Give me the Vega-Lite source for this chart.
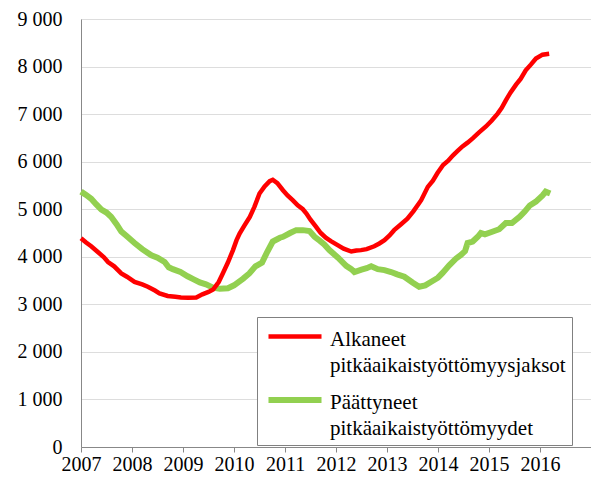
{
  "$schema": "https://vega.github.io/schema/vega-lite/v6.json",
  "width": 510,
  "height": 428,
  "autosize": {"type": "none"},
  "padding": {"left": 81, "top": 19, "right": 0, "bottom": 38},
  "background": "white",
  "data": {
    "values": [
      {"series":"Päättyneet pitkäaikaistyöttömyydet","t":2007.0,"v":5370},{"series":"Päättyneet pitkäaikaistyöttömyydet","t":2007.1,"v":5300},{"series":"Päättyneet pitkäaikaistyöttömyydet","t":2007.2,"v":5220},{"series":"Päättyneet pitkäaikaistyöttömyydet","t":2007.3,"v":5100},{"series":"Päättyneet pitkäaikaistyöttömyydet","t":2007.4,"v":4990},{"series":"Päättyneet pitkäaikaistyöttömyydet","t":2007.5,"v":4930},{"series":"Päättyneet pitkäaikaistyöttömyydet","t":2007.59,"v":4840},{"series":"Päättyneet pitkäaikaistyöttömyydet","t":2007.7,"v":4680},{"series":"Päättyneet pitkäaikaistyöttömyydet","t":2007.79,"v":4530},{"series":"Päättyneet pitkäaikaistyöttömyydet","t":2007.9,"v":4430},{"series":"Päättyneet pitkäaikaistyöttömyydet","t":2008.05,"v":4290},{"series":"Päättyneet pitkäaikaistyöttömyydet","t":2008.2,"v":4160},{"series":"Päättyneet pitkäaikaistyöttömyydet","t":2008.38,"v":4030},{"series":"Päättyneet pitkäaikaistyöttömyydet","t":2008.5,"v":3980},{"series":"Päättyneet pitkäaikaistyöttömyydet","t":2008.64,"v":3890},{"series":"Päättyneet pitkäaikaistyöttömyydet","t":2008.72,"v":3780},{"series":"Päättyneet pitkäaikaistyöttömyydet","t":2008.8,"v":3740},{"series":"Päättyneet pitkäaikaistyöttömyydet","t":2008.95,"v":3680},{"series":"Päättyneet pitkäaikaistyöttömyydet","t":2009.09,"v":3590},{"series":"Päättyneet pitkäaikaistyöttömyydet","t":2009.2,"v":3530},{"series":"Päättyneet pitkäaikaistyöttömyydet","t":2009.33,"v":3460},{"series":"Päättyneet pitkäaikaistyöttömyydet","t":2009.45,"v":3420},{"series":"Päättyneet pitkäaikaistyöttömyydet","t":2009.59,"v":3350},{"series":"Päättyneet pitkäaikaistyöttömyydet","t":2009.72,"v":3330},{"series":"Päättyneet pitkäaikaistyöttömyydet","t":2009.88,"v":3340},{"series":"Päättyneet pitkäaikaistyöttömyydet","t":2010.0,"v":3400},{"series":"Päättyneet pitkäaikaistyöttömyydet","t":2010.18,"v":3540},{"series":"Päättyneet pitkäaikaistyöttömyydet","t":2010.3,"v":3650},{"series":"Päättyneet pitkäaikaistyöttömyydet","t":2010.42,"v":3800},{"series":"Päättyneet pitkäaikaistyöttömyydet","t":2010.55,"v":3880},{"series":"Päättyneet pitkäaikaistyöttömyydet","t":2010.65,"v":4100},{"series":"Päättyneet pitkäaikaistyöttömyydet","t":2010.76,"v":4320},{"series":"Päättyneet pitkäaikaistyöttömyydet","t":2010.9,"v":4400},{"series":"Päättyneet pitkäaikaistyöttömyydet","t":2010.96,"v":4420},{"series":"Päättyneet pitkäaikaistyöttömyydet","t":2011.1,"v":4500},{"series":"Päättyneet pitkäaikaistyöttömyydet","t":2011.22,"v":4560},{"series":"Päättyneet pitkäaikaistyöttömyydet","t":2011.35,"v":4560},{"series":"Päättyneet pitkäaikaistyöttömyydet","t":2011.48,"v":4540},{"series":"Päättyneet pitkäaikaistyöttömyydet","t":2011.58,"v":4420},{"series":"Päättyneet pitkäaikaistyöttömyydet","t":2011.68,"v":4340},{"series":"Päättyneet pitkäaikaistyöttömyydet","t":2011.77,"v":4260},{"series":"Päättyneet pitkäaikaistyöttömyydet","t":2011.87,"v":4140},{"series":"Päättyneet pitkäaikaistyöttömyydet","t":2012.04,"v":3980},{"series":"Päättyneet pitkäaikaistyöttömyydet","t":2012.2,"v":3810},{"series":"Päättyneet pitkäaikaistyöttömyydet","t":2012.3,"v":3740},{"series":"Päättyneet pitkäaikaistyöttömyydet","t":2012.36,"v":3680},{"series":"Päättyneet pitkäaikaistyöttömyydet","t":2012.5,"v":3730},{"series":"Päättyneet pitkäaikaistyöttömyydet","t":2012.6,"v":3760},{"series":"Päättyneet pitkäaikaistyöttömyydet","t":2012.69,"v":3800},{"series":"Päättyneet pitkäaikaistyöttömyydet","t":2012.82,"v":3740},{"series":"Päättyneet pitkäaikaistyöttömyydet","t":2012.95,"v":3720},{"series":"Päättyneet pitkäaikaistyöttömyydet","t":2013.08,"v":3680},{"series":"Päättyneet pitkäaikaistyöttömyydet","t":2013.2,"v":3630},{"series":"Päättyneet pitkäaikaistyöttömyydet","t":2013.34,"v":3580},{"series":"Päättyneet pitkäaikaistyöttömyydet","t":2013.5,"v":3460},{"series":"Päättyneet pitkäaikaistyöttömyydet","t":2013.63,"v":3370},{"series":"Päättyneet pitkäaikaistyöttömyydet","t":2013.75,"v":3400},{"series":"Päättyneet pitkäaikaistyöttömyydet","t":2013.86,"v":3470},{"series":"Päättyneet pitkäaikaistyöttömyydet","t":2014.0,"v":3560},{"series":"Päättyneet pitkäaikaistyöttömyydet","t":2014.09,"v":3660},{"series":"Päättyneet pitkäaikaistyöttömyydet","t":2014.22,"v":3820},{"series":"Päättyneet pitkäaikaistyöttömyydet","t":2014.35,"v":3960},{"series":"Päättyneet pitkäaikaistyöttömyydet","t":2014.45,"v":4040},{"series":"Päättyneet pitkäaikaistyöttömyydet","t":2014.53,"v":4120},{"series":"Päättyneet pitkäaikaistyöttömyydet","t":2014.58,"v":4290},{"series":"Päättyneet pitkäaikaistyöttömyydet","t":2014.68,"v":4320},{"series":"Päättyneet pitkäaikaistyöttömyydet","t":2014.78,"v":4420},{"series":"Päättyneet pitkäaikaistyöttömyydet","t":2014.84,"v":4500},{"series":"Päättyneet pitkäaikaistyöttömyydet","t":2014.92,"v":4470},{"series":"Päättyneet pitkäaikaistyöttömyydet","t":2015.05,"v":4520},{"series":"Päättyneet pitkäaikaistyöttömyydet","t":2015.2,"v":4580},{"series":"Päättyneet pitkäaikaistyöttömyydet","t":2015.33,"v":4710},{"series":"Päättyneet pitkäaikaistyöttömyydet","t":2015.45,"v":4710},{"series":"Päättyneet pitkäaikaistyöttömyydet","t":2015.6,"v":4840},{"series":"Päättyneet pitkäaikaistyöttömyydet","t":2015.7,"v":4950},{"series":"Päättyneet pitkäaikaistyöttömyydet","t":2015.8,"v":5080},{"series":"Päättyneet pitkäaikaistyöttömyydet","t":2015.92,"v":5160},{"series":"Päättyneet pitkäaikaistyöttömyydet","t":2016.05,"v":5290},{"series":"Päättyneet pitkäaikaistyöttömyydet","t":2016.11,"v":5370},{"series":"Päättyneet pitkäaikaistyöttömyydet","t":2016.2,"v":5330},
      {"series":"Alkaneet pitkäaikaistyöttömyysjaksot","t":2007.0,"v":4390},{"series":"Alkaneet pitkäaikaistyöttömyysjaksot","t":2007.1,"v":4300},{"series":"Alkaneet pitkäaikaistyöttömyysjaksot","t":2007.2,"v":4220},{"series":"Alkaneet pitkäaikaistyöttömyysjaksot","t":2007.33,"v":4100},{"series":"Alkaneet pitkäaikaistyöttömyysjaksot","t":2007.45,"v":3990},{"series":"Alkaneet pitkäaikaistyöttömyysjaksot","t":2007.53,"v":3890},{"series":"Alkaneet pitkäaikaistyöttömyysjaksot","t":2007.65,"v":3800},{"series":"Alkaneet pitkäaikaistyöttömyysjaksot","t":2007.79,"v":3650},{"series":"Alkaneet pitkäaikaistyöttömyysjaksot","t":2007.9,"v":3580},{"series":"Alkaneet pitkäaikaistyöttömyysjaksot","t":2008.05,"v":3470},{"series":"Alkaneet pitkäaikaistyöttömyysjaksot","t":2008.2,"v":3420},{"series":"Alkaneet pitkäaikaistyöttömyysjaksot","t":2008.31,"v":3370},{"series":"Alkaneet pitkäaikaistyöttömyysjaksot","t":2008.45,"v":3290},{"series":"Alkaneet pitkäaikaistyöttömyysjaksot","t":2008.54,"v":3230},{"series":"Alkaneet pitkäaikaistyöttömyysjaksot","t":2008.7,"v":3175},{"series":"Alkaneet pitkäaikaistyöttömyysjaksot","t":2008.85,"v":3160},{"series":"Alkaneet pitkäaikaistyöttömyysjaksot","t":2008.96,"v":3145},{"series":"Alkaneet pitkäaikaistyöttömyysjaksot","t":2009.1,"v":3140},{"series":"Alkaneet pitkäaikaistyöttömyysjaksot","t":2009.26,"v":3145},{"series":"Alkaneet pitkäaikaistyöttömyysjaksot","t":2009.38,"v":3210},{"series":"Alkaneet pitkäaikaistyöttömyysjaksot","t":2009.5,"v":3260},{"series":"Alkaneet pitkäaikaistyöttömyysjaksot","t":2009.59,"v":3310},{"series":"Alkaneet pitkäaikaistyöttömyysjaksot","t":2009.7,"v":3470},{"series":"Alkaneet pitkäaikaistyöttömyysjaksot","t":2009.78,"v":3650},{"series":"Alkaneet pitkäaikaistyöttömyysjaksot","t":2009.88,"v":3880},{"series":"Alkaneet pitkäaikaistyöttömyysjaksot","t":2009.98,"v":4140},{"series":"Alkaneet pitkäaikaistyöttömyysjaksot","t":2010.05,"v":4350},{"series":"Alkaneet pitkäaikaistyöttömyysjaksot","t":2010.11,"v":4490},{"series":"Alkaneet pitkäaikaistyöttömyysjaksot","t":2010.2,"v":4650},{"series":"Alkaneet pitkäaikaistyöttömyysjaksot","t":2010.31,"v":4840},{"series":"Alkaneet pitkäaikaistyöttömyysjaksot","t":2010.4,"v":5050},{"series":"Alkaneet pitkäaikaistyöttömyysjaksot","t":2010.5,"v":5330},{"series":"Alkaneet pitkäaikaistyöttömyysjaksot","t":2010.6,"v":5480},{"series":"Alkaneet pitkäaikaistyöttömyysjaksot","t":2010.7,"v":5590},{"series":"Alkaneet pitkäaikaistyöttömyysjaksot","t":2010.76,"v":5620},{"series":"Alkaneet pitkäaikaistyöttömyysjaksot","t":2010.85,"v":5550},{"series":"Alkaneet pitkäaikaistyöttömyysjaksot","t":2010.96,"v":5400},{"series":"Alkaneet pitkäaikaistyöttömyysjaksot","t":2011.05,"v":5290},{"series":"Alkaneet pitkäaikaistyöttömyysjaksot","t":2011.15,"v":5190},{"series":"Alkaneet pitkäaikaistyöttömyysjaksot","t":2011.25,"v":5080},{"series":"Alkaneet pitkäaikaistyöttömyysjaksot","t":2011.35,"v":5000},{"series":"Alkaneet pitkäaikaistyöttömyysjaksot","t":2011.42,"v":4910},{"series":"Alkaneet pitkäaikaistyöttömyysjaksot","t":2011.5,"v":4780},{"series":"Alkaneet pitkäaikaistyöttömyysjaksot","t":2011.61,"v":4630},{"series":"Alkaneet pitkäaikaistyöttömyysjaksot","t":2011.7,"v":4500},{"series":"Alkaneet pitkäaikaistyöttömyysjaksot","t":2011.8,"v":4400},{"series":"Alkaneet pitkäaikaistyöttömyysjaksot","t":2011.9,"v":4330},{"series":"Alkaneet pitkäaikaistyöttömyysjaksot","t":2012.04,"v":4240},{"series":"Alkaneet pitkäaikaistyöttömyysjaksot","t":2012.15,"v":4170},{"series":"Alkaneet pitkäaikaistyöttömyysjaksot","t":2012.3,"v":4110},{"series":"Alkaneet pitkäaikaistyöttömyysjaksot","t":2012.4,"v":4130},{"series":"Alkaneet pitkäaikaistyöttömyysjaksot","t":2012.49,"v":4140},{"series":"Alkaneet pitkäaikaistyöttömyysjaksot","t":2012.6,"v":4160},{"series":"Alkaneet pitkäaikaistyöttömyysjaksot","t":2012.75,"v":4220},{"series":"Alkaneet pitkäaikaistyöttömyysjaksot","t":2012.85,"v":4280},{"series":"Alkaneet pitkäaikaistyöttömyysjaksot","t":2012.95,"v":4350},{"series":"Alkaneet pitkäaikaistyöttömyysjaksot","t":2013.05,"v":4450},{"series":"Alkaneet pitkäaikaistyöttömyysjaksot","t":2013.14,"v":4560},{"series":"Alkaneet pitkäaikaistyöttömyysjaksot","t":2013.27,"v":4680},{"series":"Alkaneet pitkäaikaistyöttömyysjaksot","t":2013.4,"v":4800},{"series":"Alkaneet pitkäaikaistyöttömyysjaksot","t":2013.52,"v":4960},{"series":"Alkaneet pitkäaikaistyöttömyysjaksot","t":2013.67,"v":5190},{"series":"Alkaneet pitkäaikaistyöttömyysjaksot","t":2013.8,"v":5470},{"series":"Alkaneet pitkäaikaistyöttömyysjaksot","t":2013.9,"v":5600},{"series":"Alkaneet pitkäaikaistyöttömyysjaksot","t":2013.99,"v":5760},{"series":"Alkaneet pitkäaikaistyöttömyysjaksot","t":2014.1,"v":5930},{"series":"Alkaneet pitkäaikaistyöttömyysjaksot","t":2014.2,"v":6020},{"series":"Alkaneet pitkäaikaistyöttömyysjaksot","t":2014.29,"v":6130},{"series":"Alkaneet pitkäaikaistyöttömyysjaksot","t":2014.38,"v":6220},{"series":"Alkaneet pitkäaikaistyöttömyysjaksot","t":2014.48,"v":6320},{"series":"Alkaneet pitkäaikaistyöttömyysjaksot","t":2014.58,"v":6400},{"series":"Alkaneet pitkäaikaistyöttömyysjaksot","t":2014.68,"v":6490},{"series":"Alkaneet pitkäaikaistyöttömyysjaksot","t":2014.8,"v":6610},{"series":"Alkaneet pitkäaikaistyöttömyysjaksot","t":2014.94,"v":6740},{"series":"Alkaneet pitkäaikaistyöttömyysjaksot","t":2015.05,"v":6860},{"series":"Alkaneet pitkäaikaistyöttömyysjaksot","t":2015.17,"v":7010},{"series":"Alkaneet pitkäaikaistyöttömyysjaksot","t":2015.25,"v":7130},{"series":"Alkaneet pitkäaikaistyöttömyysjaksot","t":2015.33,"v":7290},{"series":"Alkaneet pitkäaikaistyöttömyysjaksot","t":2015.42,"v":7450},{"series":"Alkaneet pitkäaikaistyöttömyysjaksot","t":2015.53,"v":7620},{"series":"Alkaneet pitkäaikaistyöttömyysjaksot","t":2015.62,"v":7740},{"series":"Alkaneet pitkäaikaistyöttömyysjaksot","t":2015.72,"v":7920},{"series":"Alkaneet pitkäaikaistyöttömyysjaksot","t":2015.82,"v":8040},{"series":"Alkaneet pitkäaikaistyöttömyysjaksot","t":2015.92,"v":8170},{"series":"Alkaneet pitkäaikaistyöttömyysjaksot","t":2016.05,"v":8250},{"series":"Alkaneet pitkäaikaistyöttömyysjaksot","t":2016.18,"v":8270}
    ]
  },
  "mark": {"type": "line"},
  "encoding": {
    "x": {
      "field": "t", "type": "quantitative",
      "scale": {"domain": [2007, 2017], "nice": false, "zero": false},
      "axis": {
        "title": null, "grid": false,
        "values": [2007,2008,2009,2010,2011,2012,2013,2014,2015,2016],
        "format": "d", "labelFontSize": 20, "labelColor": "#000000",
        "labelOverlap": false, "labelFlush": false,
        "labelFont": "Liberation Serif"
      }
    },
    "y": {
      "field": "v", "type": "quantitative",
      "scale": {"domain": [0, 9000], "nice": false},
      "axis": {
        "title": null, "values": [0,1000,2000,3000,4000,5000,6000,7000,8000,9000],
        "labelExpr": "replace(format(datum.value, ','), ',', ' ')",
        "labelFontSize": 20, "labelColor": "#000000", "labelFont": "Liberation Serif",
        "ticks": false, "labelPadding": 19
      }
    },
    "strokeWidth": {
      "field": "series", "type": "nominal",
      "scale": {
        "domain": ["Alkaneet pitkäaikaistyöttömyysjaksot", "Päättyneet pitkäaikaistyöttömyydet"],
        "range": [4.5, 6]
      },
      "legend": null
    },
    "color": {
      "field": "series", "type": "nominal",
      "scale": {
        "domain": ["Alkaneet pitkäaikaistyöttömyysjaksot", "Päättyneet pitkäaikaistyöttömyydet"],
        "range": ["#ff0000", "#92d050"]
      },
      "legend": {
        "title": null, "orient": "none", "legendX": 176, "legendY": 298,
        "symbolType": "M-2.41,0H2.41", "symbolSize": 484, "symbolStrokeWidth": 5,
        "symbolOffset": 18,
        "labelExpr": "split(datum.label, ' ')",
        "labelFontSize": 21, "labelFont": "Liberation Serif", "labelColor": "#000000",
        "labelLimit": 0, "labelOffset": 21, "labelBaseline": "top",
        "strokeColor": "#808080", "fillColor": "white",
        "padding": 6, "rowPadding": 10,
        "encode": {"labels": {"update": {"dy": {"value": -8}, "lineHeight": {"value": 26}}}}
      }
    }
  }
}
